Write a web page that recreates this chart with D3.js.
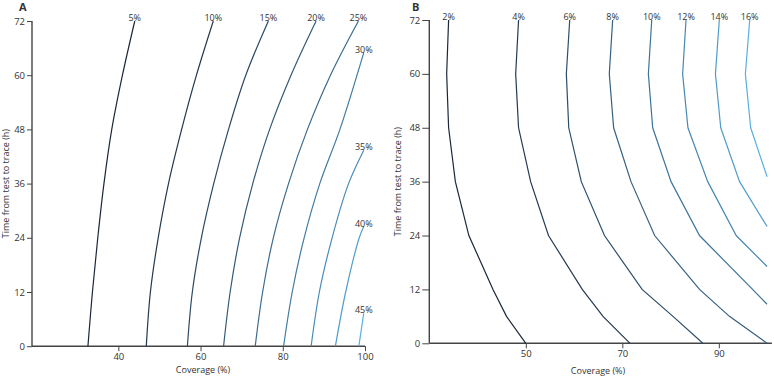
<!DOCTYPE html>
<html><head><meta charset="utf-8">
<script src="https://cdn.jsdelivr.net/npm/d3@7"></script>
<style>
body{margin:0;background:#fff;}
svg text{font-family:"Open Sans",sans-serif;fill:#333;}
</style></head>
<body>
<svg id="c" width="774" height="377"></svg>
<script>
// Panel A: contour levels, each a list of [hours, coverage %]
const levelsA = ["5%","10%","15%","20%","25%","30%","35%","40%","45%"];
const line5  = [[0,32.6],[12,33.7],[24,35.0],[36,36.5],[48,38.4],[60,41.0],[72,44.0]];
const line10 = [[0,46.8],[12,47.8],[24,49.7],[36,52.2],[48,55.4],[60,59.0],[72,63.1]];
const line15 = [[0,56.8],[12,58.0],[24,60.2],[36,63.2],[48,66.8],[60,71.0],[72,76.5]];
const line20 = [[0,65.6],[12,67.2],[24,69.5],[36,72.7],[48,76.8],[60,82.0],[72,88.1]];
const line25 = [[0,73.3],[12,75.1],[24,77.7],[36,81.4],[48,86.0],[60,91.6],[72,98.4]];
const line30 = [[0,80.2],[12,82.3],[24,85.2],[36,89.0],[48,93.9],[65,99.7]];
const line35 = [[0,86.9],[12,88.9],[24,92.0],[36,96.0],[43.4,99.7]];
const line40 = [[0,92.8],[12,95.3],[24,98.6],[26.5,99.7]];
const line45 = [[0,98.5],[7.3,99.7]];
const linesA = [line5,line10,line15,line20,line25,line30,line35,line40,line45];

// Panel B
const levelsB = ["2%","4%","6%","8%","10%","12%","14%","16%"];
const lineB2  = [[0,50.0],[6,46.0],[12,43.2],[24,38.2],[36,35.4],[48,34.0],[60,33.6],[72,34.0]];
const lineB4  = [[0,71.6],[6,66.0],[12,61.7],[24,54.7],[36,51.0],[48,48.5],[60,47.9],[72,48.5]];
const lineB6  = [[0,86.7],[6,80.5],[12,74.1],[24,66.3],[36,61.5],[48,58.9],[60,58.4],[72,59.1]];
const lineB8  = [[0,100.0],[6,92.2],[12,86.0],[24,76.7],[36,71.8],[48,68.2],[60,67.3],[72,68.0]];
const lineB10 = [[8.7,100.0],[12,97.0],[24,86.0],[36,80.1],[48,76.3],[60,75.4],[72,76.1]];
const lineB12 = [[17.1,100.0],[24,93.6],[36,87.7],[48,83.6],[60,82.5],[72,83.2]];
const lineB14 = [[26.0,100.0],[36,94.3],[48,90.4],[60,89.3],[72,90.1]];
const lineB16 = [[37.1,100.0],[48,96.6],[60,95.5],[72,96.4]];
const linesB = [lineB2,lineB4,lineB6,lineB8,lineB10,lineB12,lineB14,lineB16];

const yTicks = [0,12,24,36,48,60,72];
const xTicksA = [40,60,80,100];
const xTicksB = [50,70,90];
const yTitle = "Time from test to trace (h)";
const xTitle = "Coverage (%)";

const svg = d3.select("#c");
const colorA = d3.scaleLinear().domain([0, levelsA.length-1]).range(["#1b2739","#5aaee2"]).interpolate(d3.interpolateRgb);
const colorB = d3.scaleLinear().domain([0, levelsB.length-1]).range(["#1b2739","#5aaee2"]).interpolate(d3.interpolateRgb);

function panel(opt){
  const g = svg.append("g");
  const x = d3.scaleLinear().domain(opt.xdom).range(opt.xr);
  const y = d3.scaleLinear().domain([0,72]).range(opt.yr);
  const ya = g.append("g").attr("transform",`translate(${opt.xr[0]},0)`)
    .call(d3.axisLeft(y).tickValues(yTicks).tickSize(opt.ytick).tickPadding(2));
  const xa = g.append("g").attr("transform",`translate(0,${opt.yr[0]})`)
    .call(d3.axisBottom(x).tickValues(opt.xticks).tickSize(5).tickPadding(2));
  [ya,xa].forEach(a=>{
    a.select(".domain").attr("stroke","#444").attr("stroke-width",1.4);
    a.selectAll(".tick line").attr("stroke","#444").attr("stroke-width",1);
    a.selectAll(".tick text").attr("font-size",9.5).attr("fill","#333").style("font-family","'Open Sans',sans-serif");
  });
  xa.select(".domain").attr("d",`M${opt.xr[0]},0H${opt.xr[1]}`);
  ya.select(".domain").attr("d",`M0,${opt.yr[0]}V${opt.yr[1]}`);
  const line = d3.line().x(d=>x(d[1])).y(d=>y(d[0])).curve(opt.curve);
  opt.lines.forEach((ln,i)=>{
    g.append("path").attr("d",line(ln)).attr("fill","none")
      .attr("stroke",opt.color(i)).attr("stroke-width",1.2);
    const last = ln[ln.length-1];
    g.append("text").attr("x",x(last[1])).attr("y",y(last[0])+opt.ldy)
      .attr("text-anchor","middle").attr("font-size",9).text(opt.levels[i]);
  });
  g.append("text").attr("transform",`translate(${opt.ytx},${(opt.yr[0]+opt.yr[1])/2}) rotate(-90)`)
    .attr("text-anchor","middle").attr("dy","0.35em").attr("font-size",9).text(yTitle);
  g.append("text").attr("x",opt.xtx).attr("y",opt.xty).attr("text-anchor","middle")
    .attr("font-size",9).text(xTitle);
  g.append("text").attr("x",opt.lx).attr("y",opt.ly).attr("font-size",11).attr("font-weight","bold").text(opt.letter);
}

panel({xdom:[19,100], xr:[32,365], yr:[346.2,21], xticks:xTicksA, ytick:5,
  lines:linesA, levels:levelsA, color:colorA, curve:d3.curveCatmullRom, ldy:0,
  ytx:5.5, xtx:203, xty:373, lx:19, ly:11, letter:"A"});
panel({xdom:[30,101], xr:[429.3,771.9], yr:[343.3,20], xticks:xTicksB, ytick:7,
  lines:linesB, levels:levelsB, color:colorB, curve:d3.curveLinear, ldy:0,
  ytx:398, xtx:598, xty:374, lx:412, ly:11, letter:"B"});
</script>
</body></html>
